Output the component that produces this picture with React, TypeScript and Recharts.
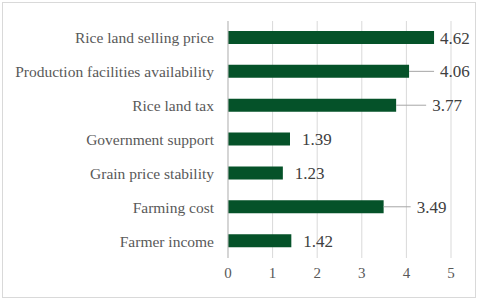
import { BarChart, Bar, XAxis, YAxis, CartesianGrid, LabelList } from "recharts"

const factors = [
  "Rice land selling price",
  "Production facilities availability",
  "Rice land tax",
  "Government support",
  "Grain price stability",
  "Farming cost",
  "Farmer income",
]
const scores = [4.62, 4.06, 3.77, 1.39, 1.23, 3.49, 1.42]
const xTicks = [0, 1, 2, 3, 4, 5]

const data = factors.map((name, i) => ({ name, score: scores[i] }))

const serif = "'Liberation Serif', 'Times New Roman', serif"

// gap between bar end and its value label; long ones get a leader line
const labelGap = [6, 31, 36, 12, 12, 33, 12]

function ValueLabel(props: any) {
  const { x, y, width, height, value, index } = props
  const end = x + width
  const cy = y + height / 2
  const gap = labelGap[index] ?? 10
  return (
    <g>
      {gap > 20 && (
        <line x1={end} y1={cy} x2={end + gap - 6} y2={cy} stroke="#a6a6a6" strokeWidth={1} />
      )}
      <text x={end + gap} y={cy} dy={6} fontSize={17} fontFamily={serif} fill="#404040">
        {value.toFixed(2)}
      </text>
    </g>
  )
}

export default function App() {
  return (
    <div
      style={{
        position: "absolute",
        left: 0,
        top: 0,
        width: 480,
        height: 302,
        background: "#fff",
        fontFamily: serif,
      }}
    >
      <div
        style={{
          position: "absolute",
          left: 2,
          top: 2,
          width: 474,
          height: 296,
          border: "1px solid #d9d9d9",
          boxSizing: "border-box",
        }}
      />
      <BarChart
        width={480}
        height={302}
        data={data}
        layout="vertical"
        margin={{ top: 21, right: 29, bottom: 14, left: 0 }}
        style={{ position: "absolute", left: 0, top: 0 }}
      >
        <CartesianGrid horizontal={false} stroke="#d9d9d9" />
        <XAxis
          type="number"
          domain={[0, 5]}
          ticks={xTicks}
          axisLine={false}
          tickLine={false}
          height={30}
          tickMargin={3}
          tick={{ fontSize: 15, fill: "#595959", fontFamily: serif }}
        />
        <YAxis
          type="category"
          dataKey="name"
          width={228}
          axisLine={{ stroke: "#bfbfbf" }}
          tickLine={false}
          tickSize={0}
          tickMargin={14}
          interval={0}
          tick={{ fontSize: 15.5, fill: "#595959", fontFamily: serif }}
        />
        <Bar dataKey="score" fill="#055229" barSize={13} isAnimationActive={false}>
          <LabelList dataKey="score" content={<ValueLabel />} />
        </Bar>
      </BarChart>
    </div>
  )
}
